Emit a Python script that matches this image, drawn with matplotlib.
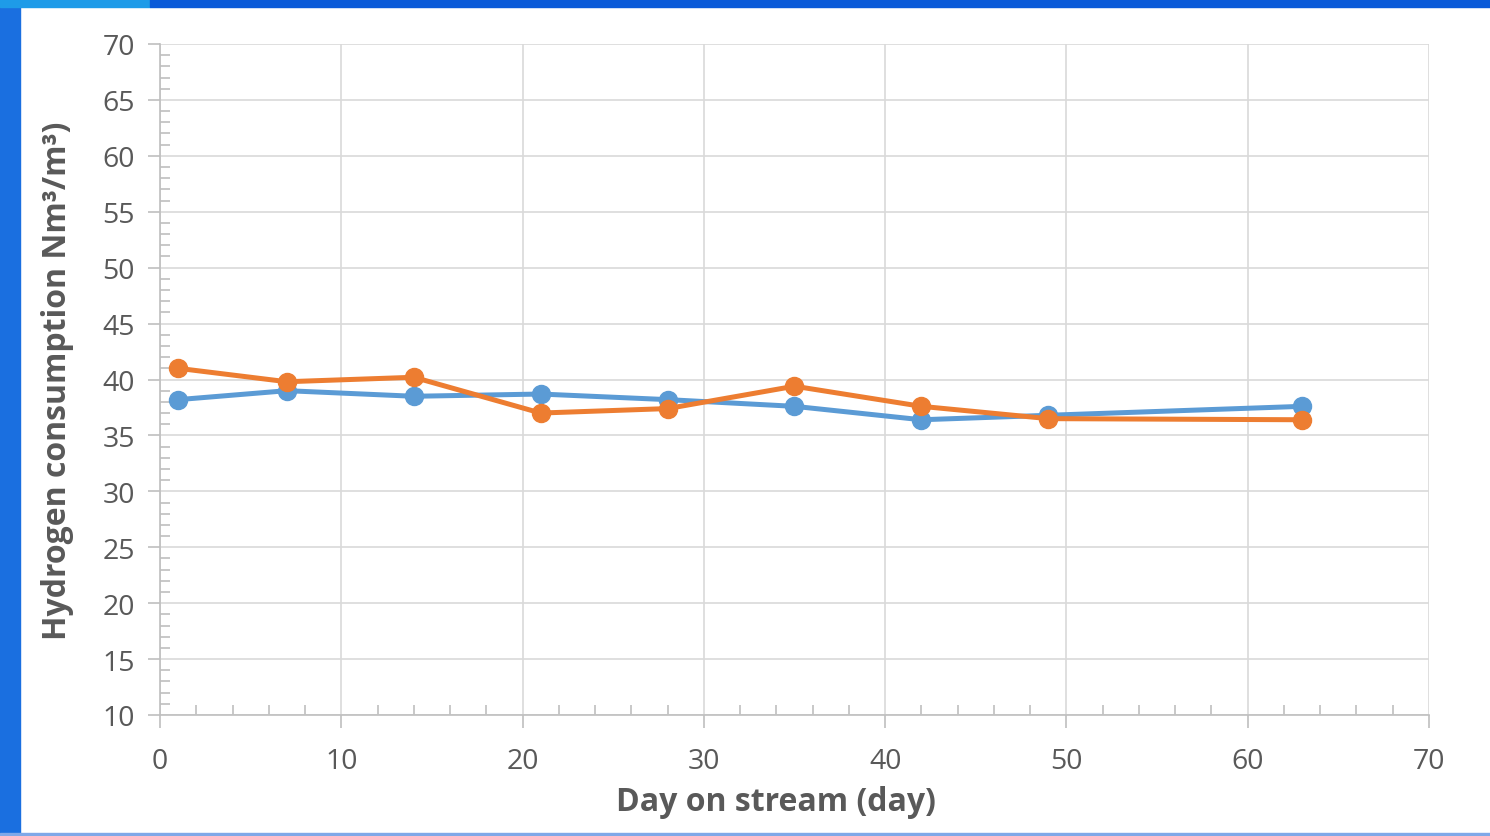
import matplotlib
matplotlib.use("Agg")
import matplotlib.pyplot as plt
from matplotlib.patches import Rectangle
from matplotlib.ticker import MultipleLocator

days = [1, 7, 14, 21, 28, 35, 42, 49, 63]
blue_vals = [38.2, 39.0, 38.5, 38.7, 38.2, 37.6, 36.4, 36.8, 37.6]
orange_vals = [41.0, 39.8, 40.2, 37.0, 37.4, 39.4, 37.6, 36.5, 36.4]

plt.rcParams['font.family'] = ['Open Sans', 'DejaVu Sans']

fig = plt.figure(figsize=(14.9, 8.37), dpi=100)
fig.patch.set_facecolor('white')

# slide background decoration
fig.add_artist(Rectangle((0, 0), 20/1490, 1, transform=fig.transFigure, color='#1a6fe0', zorder=0))
fig.add_artist(Rectangle((0, 1-8/837), 150/1490, 8/837, transform=fig.transFigure, color='#1e9be8', zorder=0))
fig.add_artist(Rectangle((150/1490, 1-8/837), 1, 8/837, transform=fig.transFigure, color='#0a5ad8', zorder=0))
fig.add_artist(Rectangle((0, 0), 1, 3/837, transform=fig.transFigure, color='#7fa8e8', zorder=0))

ax = fig.add_axes([160/1490, 1-716/837, (1429-160)/1490, (716-45)/837])
ax.set_xlim(0, 70)
ax.set_ylim(10, 70)

grid_c = '#d9d9d9'
ax.xaxis.set_major_locator(MultipleLocator(10))
ax.xaxis.set_minor_locator(MultipleLocator(2))
ax.yaxis.set_major_locator(MultipleLocator(5))
ax.yaxis.set_minor_locator(MultipleLocator(1))
ax.grid(True, which='major', color=grid_c, lw=1.2)
ax.set_axisbelow(True)

for s in ['top', 'right']:
    ax.spines[s].set_visible(False)
for s in ['left', 'bottom']:
    ax.spines[s].set_color('#bfbfbf')
    ax.spines[s].set_linewidth(1.2)

ax.tick_params(axis='both', which='major', direction='out', length=9, width=1.2,
               color='#bfbfbf', labelsize=20.5, labelcolor='#595959')
ax.tick_params(axis='x', which='major', pad=14)
ax.tick_params(axis='y', which='major', pad=9)
ax.tick_params(axis='both', which='minor', direction='in', length=7, width=1.2, color='#bfbfbf')

ax.plot(days, blue_vals, color='#5B9BD5', lw=3.6, marker='o', ms=13, zorder=3)
ax.plot(days, orange_vals, color='#ED7D31', lw=3.6, marker='o', ms=13, zorder=4)

ax.set_xlabel('Day on stream (day)', fontsize=23, fontweight='bold', color='#595959')
ax.xaxis.set_label_coords(0.485, -0.105)
ax.set_ylabel('Hydrogen consumption Nm³/m³)', fontsize=23, fontweight='bold', color='#595959')
ax.yaxis.set_label_coords(-0.068, 0.5)

fig.savefig('out.png', dpi=100)
